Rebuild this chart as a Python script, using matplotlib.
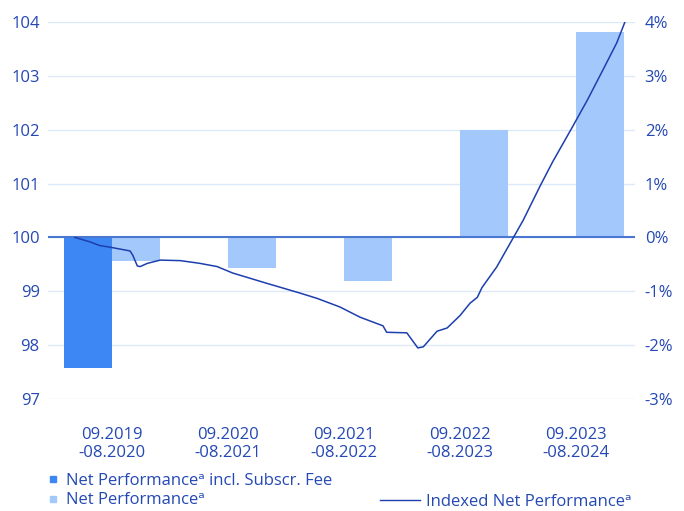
import matplotlib
matplotlib.use("Agg")
import matplotlib.pyplot as plt
from matplotlib.lines import Line2D
import numpy as np

plt.rcParams['font.family'] = ['Open Sans', 'DejaVu Sans']

# data
periods = ['09.2019\n-08.2020', '09.2020\n-08.2021', '09.2021\n-08.2022',
           '09.2022\n-08.2023', '09.2023\n-08.2024']
perf_incl_fee = [-2.42, np.nan, np.nan, np.nan, np.nan]
perf_net = [-0.43, -0.57, -0.80, 1.99, 3.81]

# indexed net performance (months since 09.2019, index value)
idx_months = [0, 1.6, 2.7, 3.8, 6.0, 6.3, 6.8, 7.1, 7.9, 9.3, 11.5, 13.6,
              15.5, 17.2, 20.9, 24.5, 26.4, 28.9, 31.1, 33.6, 34.0, 36.2,
              37.4, 38.0, 39.5, 40.6, 42.0, 43.1, 43.9, 44.4, 46.0, 47.8,
              48.9, 50.7, 52.1, 54.2, 55.9, 57.6, 59.1, 60.0]
idx_values = [100.0, 99.92, 99.85, 99.82, 99.75, 99.67, 99.47, 99.46, 99.52,
              99.58, 99.57, 99.52, 99.46, 99.34, 99.15, 98.97, 98.87, 98.71,
              98.52, 98.36, 98.24, 98.23, 97.95, 97.97, 98.26, 98.32, 98.55,
              98.78, 98.89, 99.07, 99.45, 99.99, 100.32, 100.94, 101.40,
              102.03, 102.55, 103.11, 103.61, 104.0]

txt_col = '#2448b4'
dark_col = '#3d87f5'
light_col = '#a3c9fc'
line_col = '#1d3fae'
grid_col = '#dce9f9'

fig = plt.figure(figsize=(6.84, 5.11), dpi=100)
ax = fig.add_axes([0.0702, 0.219, 0.8582, 0.738])
ax2 = ax.twinx()

x = np.arange(len(periods))
w = 0.414
ax2.bar(x - w / 2, perf_incl_fee, w, color=dark_col, zorder=2)
ax2.bar(x + w / 2, perf_net, w, color=light_col, zorder=2)
ax2.axhline(0, color='#4a78d0', lw=1.5, zorder=3)

# line spans the months on the category axis
pos = -0.319 + np.array(idx_months) * 4.741 / 60
ax.plot(pos, idx_values, color=line_col, lw=1.1, zorder=4)

ax.set_ylim(97, 104)
ax2.set_ylim(-3, 4)
ax.set_xlim(-0.552, 4.509)
ax.set_yticks(range(97, 105))
ax2.set_yticks(range(-3, 5))
ax2.set_yticklabels([f'{v}%' for v in range(-3, 5)])
ax.set_xticks(x)
ax.set_xticklabels(periods)

# line on top of bars
ax.set_zorder(ax2.get_zorder() + 1)
ax.patch.set_visible(False)
for v in range(97, 105):
    ax2.axhline(v - 100, color=grid_col, lw=1.0, zorder=0)

for a in (ax, ax2):
    for s in a.spines.values():
        s.set_visible(False)
    a.tick_params(length=0, labelsize=12, colors=txt_col)
ax.tick_params(axis='y', pad=6)
ax2.tick_params(axis='y', pad=7)
ax.tick_params(axis='x', pad=20)
for lab in ax.get_xticklabels():
    lab.set_linespacing(1.15)

sq = [Line2D([], [], marker='s', ls='', color=dark_col, markersize=5),
      Line2D([], [], marker='s', ls='', color=light_col, markersize=5)]
leg1 = fig.legend(sq, ['Net Performanceᵃ incl. Subscr. Fee', 'Net Performanceᵃ'],
                  loc='upper left', bbox_to_anchor=(0.058, 0.091), frameon=False,
                  fontsize=12, handlelength=0.6, handletextpad=0.45,
                  labelspacing=0.22, borderpad=0)
leg2 = fig.legend([Line2D([], [], color=line_col, lw=1.0)],
                  ['Indexed Net Performanceᵃ'], loc='upper left',
                  bbox_to_anchor=(0.543, 0.050), frameon=False, fontsize=12,
                  handlelength=2.4, handletextpad=0.35, borderpad=0)
for lg in (leg1, leg2):
    for t in lg.get_texts():
        t.set_color(txt_col)

fig.savefig('out.png', dpi=100)
